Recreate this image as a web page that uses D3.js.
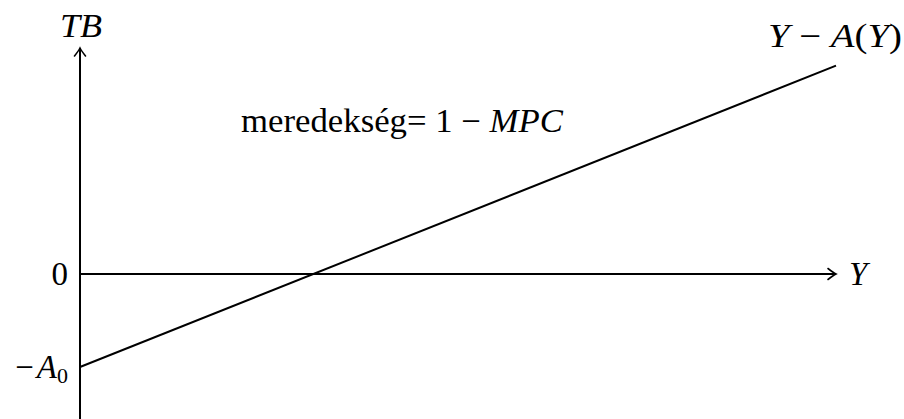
<!DOCTYPE html>
<html>
<head>
<meta charset="utf-8">
<script src="https://cdn.jsdelivr.net/npm/d3@7"></script>
<style>
  html, body { margin: 0; padding: 0; background: #fff; }
</style>
</head>
<body>
<div id="main"></div>
<script>
const ctx = { w: 904, h: 419, font: "'Liberation Serif'", fs: 33 };

// axis extents (Y along x, TB along y), in chart units where A0 = 1
const yExtent = [0, 10];
const tbExtent = [-1.57, 2.43];

// the TB = Y - A(Y) line
const lineY = [0, 10];
const lineTB = [-1, 2.24];

// labels on the TB axis
const tickValues = [0, -1];
const tickLabels = ["0", "\u2212A"];
const tickSubs = ["", "0"];

function label(g) {
    return g.append("text")
        .style("font-family", ctx.font)
        .attr("font-size", ctx.fs)
        .attr("fill", "#000");
}

function createViz() {
    const svg = d3.select("#main").append("svg")
        .attr("width", ctx.w)
        .attr("height", ctx.h);

    const x = d3.scaleLinear().domain([0, 10]).range([80, 836]);
    const y = d3.scaleLinear().domain([-1, 0]).range([367, 274]);

    // arrow tip like tikz "->"
    svg.append("defs").append("marker")
        .attr("id", "arr")
        .attr("markerUnits", "userSpaceOnUse")
        .attr("viewBox", "-10 -7 12 14")
        .attr("refX", 0).attr("refY", 0)
        .attr("markerWidth", 12).attr("markerHeight", 14)
        .attr("orient", "auto")
        .append("path")
        .attr("d", "M-8,-5.5 Q-2.5,-1.2 0,0 Q-2.5,1.2 -8,5.5")
        .attr("fill", "none")
        .attr("stroke", "#000")
        .attr("stroke-width", 1.6)
        .attr("stroke-linecap", "round");

    const g = svg.append("g");

    // horizontal axis (Y)
    g.append("line")
        .attr("x1", x(yExtent[0])).attr("x2", x(yExtent[1]))
        .attr("y1", y(0)).attr("y2", y(0))
        .attr("stroke", "#000").attr("stroke-width", 2)
        .attr("marker-end", "url(#arr)");

    // vertical axis (TB)
    g.append("line")
        .attr("x1", x(0)).attr("x2", x(0))
        .attr("y1", y(tbExtent[0])).attr("y2", y(tbExtent[1]))
        .attr("stroke", "#000").attr("stroke-width", 2)
        .attr("marker-end", "url(#arr)");

    // the line
    const pts = lineY.map((v, i) => [v, lineTB[i]]);
    g.append("path")
        .datum(pts)
        .attr("d", d3.line().x(d => x(d[0])).y(d => y(d[1])))
        .attr("fill", "none")
        .attr("stroke", "#000")
        .attr("stroke-width", 2);

    // tick labels
    tickValues.forEach((v, i) => {
        const t = label(g)
            .attr("x", x(0) - 12)
            .attr("y", y(v) + 10.5)
            .attr("text-anchor", "end");
        if (tickSubs[i]) {
            t.append("tspan").text("\u2212");
            t.append("tspan").attr("dx", 3).attr("font-style", "italic").text("A");
            t.append("tspan").attr("font-size", 22).attr("dy", 5).text(tickSubs[i]);
        } else {
            t.text(tickLabels[i]);
        }
    });

    // axis titles
    label(g)
        .attr("x", x(0) + 1).attr("y", 37)
        .attr("text-anchor", "middle")
        .attr("font-style", "italic")
        .attr("textLength", 42).attr("lengthAdjust", "spacingAndGlyphs")
        .text("TB");

    label(g)
        .attr("x", x(yExtent[1]) + 13).attr("y", y(0) + 11)
        .attr("font-style", "italic")
        .text("Y");

    // line label
    const lt = label(g)
        .attr("x", 768).attr("y", 47)
        .attr("textLength", 134).attr("lengthAdjust", "spacingAndGlyphs");
    lt.append("tspan").attr("font-style", "italic").text("Y");
    lt.append("tspan").text(" \u2212 ");
    lt.append("tspan").attr("font-style", "italic").text("A");
    lt.append("tspan").text("(");
    lt.append("tspan").attr("font-style", "italic").text("Y");
    lt.append("tspan").text(")");

    // slope annotation
    const st = label(g)
        .attr("x", 241).attr("y", 132)
        .attr("textLength", 322).attr("lengthAdjust", "spacingAndGlyphs");
    st.append("tspan").text("meredekség= 1 \u2212 ");
    st.append("tspan").attr("font-style", "italic").text("MPC");
}

createViz();
</script>
</body>
</html>
